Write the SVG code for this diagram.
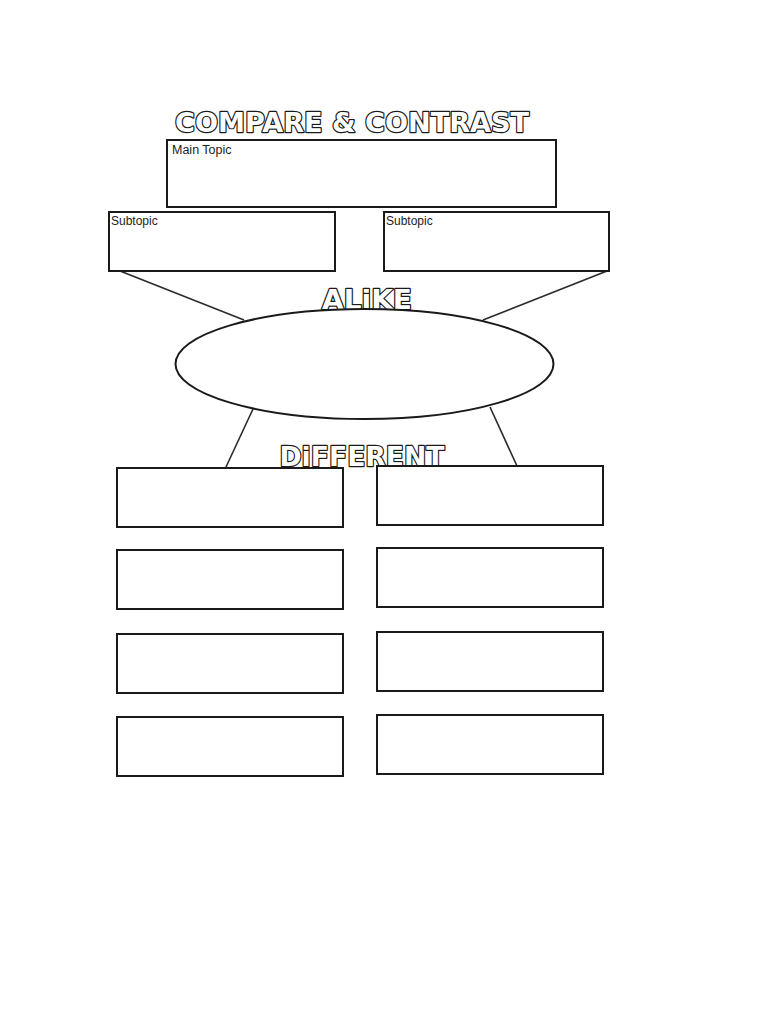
<svg xmlns="http://www.w3.org/2000/svg" width="768" height="1024" viewBox="0 0 768 1024">
<style>
.box{fill:#fff;stroke:#1a1a1a;stroke-width:2}
.conn{fill:none;stroke:#2a2a2a;stroke-width:1.6}
.lbl{font-family:"Liberation Sans",Arial,sans-serif;fill:#222}
.bubble{font-family:"DejaVu Sans",sans-serif;font-weight:bold;fill:#fff;stroke:#1a1a1a;stroke-width:2.4;paint-order:stroke;stroke-linejoin:round}
</style>
<rect width="768" height="1024" fill="#fff"/>
<g id="title"><text class="bubble" x="352" y="132" font-size="27" text-anchor="middle" textLength="354" lengthAdjust="spacingAndGlyphs">COMPARE &amp; CONTRAST</text></g>
<g id="connectors">
<line class="conn" x1="120" y1="271" x2="244" y2="320"/>
<line class="conn" x1="607" y1="271" x2="483" y2="320"/>
<line class="conn" x1="253" y1="409" x2="226" y2="467"/>
<line class="conn" x1="490" y1="407" x2="517" y2="466"/>
</g>
<g id="main-topic"><rect class="box" x="167" y="140" width="389" height="67"/><text class="lbl" x="172" y="154" font-size="12.5">Main Topic</text></g>
<g id="subtopic-left"><rect class="box" x="109" y="212" width="226" height="59"/><text class="lbl" x="111" y="225" font-size="12">Subtopic</text></g>
<g id="subtopic-right"><rect class="box" x="384" y="212" width="225" height="59"/><text class="lbl" x="386" y="225" font-size="12">Subtopic</text></g>
<g id="alike-label"><text class="bubble" x="367" y="309" font-size="27" text-anchor="middle" textLength="90" lengthAdjust="spacingAndGlyphs">ALiKE</text></g>
<g id="alike"><ellipse class="box" cx="364.5" cy="364" rx="189" ry="55"/></g>
<g id="different-label"><text class="bubble" x="362" y="466" font-size="27" text-anchor="middle" textLength="165" lengthAdjust="spacingAndGlyphs">DiFFERENT</text></g>
<g id="diff-l1"><rect class="box" x="117" y="468" width="226" height="59"/></g>
<g id="diff-r1"><rect class="box" x="377" y="466" width="226" height="59"/></g>
<g id="diff-l2"><rect class="box" x="117" y="550" width="226" height="59"/></g>
<g id="diff-r2"><rect class="box" x="377" y="548" width="226" height="59"/></g>
<g id="diff-l3"><rect class="box" x="117" y="634" width="226" height="59"/></g>
<g id="diff-r3"><rect class="box" x="377" y="632" width="226" height="59"/></g>
<g id="diff-l4"><rect class="box" x="117" y="717" width="226" height="59"/></g>
<g id="diff-r4"><rect class="box" x="377" y="715" width="226" height="59"/></g>
</svg>
